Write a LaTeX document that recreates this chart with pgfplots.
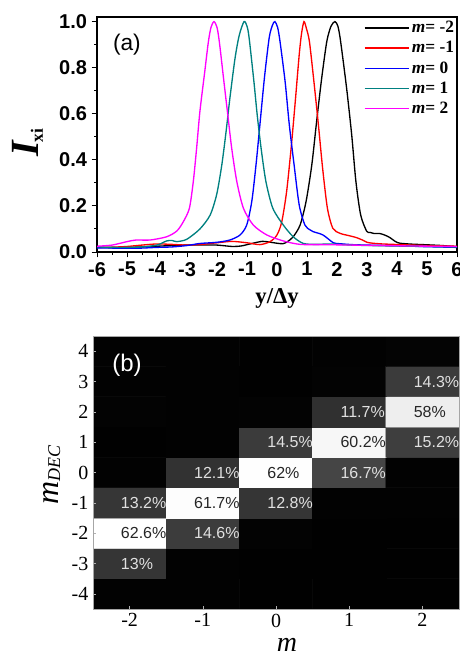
\documentclass[border=0pt]{standalone}
\usepackage{fontspec}
\usepackage{pgfplots}
\pgfplotsset{compat=1.18}
\setmainfont{Liberation Sans}
\newfontfamily\fsans{Liberation Sans}
\newfontfamily\fserif{Liberation Serif}
\definecolor{mteal}{RGB}{0,128,128}
\definecolor{mmag}{RGB}{255,0,255}

\begin{document}
\begin{tikzpicture}
\useasboundingbox (0,0) rectangle (345pt,489.75pt);

% (a) intensity profiles
\begin{axis}[
  at={(72.75pt,300.75pt)}, anchor=south west,
  scale only axis, width=270pt, height=176.25pt,
  xmin=-6, xmax=6, ymin=0, ymax=1.02,
  xtick={-6,-5,-4,-3,-2,-1,0,1,2,3,4,5,6},
  ytick={0,0.2,0.4,0.6,0.8,1},
  minor x tick num=1, minor y tick num=1,
  tick align=outside, tick pos=left,
  major tick length=4pt, minor tick length=2.2pt,
  axis line style={line width=0.8pt},
  tick style={black, line width=0.7pt},
  /pgf/number format/assume math mode=true,
  yticklabel style={/pgf/number format/.cd, fixed, fixed zerofill, precision=1},
  tick label style={font=\fontsize{15}{17}\selectfont\fsans\bfseries},
  xlabel={\fontsize{17}{20}\selectfont\fserif\bfseries y/Δy},
  xlabel style={at={(axis description cs:0.5,-0.196)}, anchor=center},
  ylabel={\fserif\bfseries\fontsize{30}{30}\selectfont\itshape I\kern-1pt\fontsize{13}{13}\selectfont\upshape\raisebox{-3pt}{xi}},
  ylabel style={at={(axis description cs:-0.192,0.464)}, anchor=center},
  legend style={draw=none, fill=none, at={(1,1)}, anchor=north east, yshift=-1pt,
    inner sep=0pt, row sep=1pt, font=\fontsize{13}{15}\selectfont\fserif\bfseries},
  legend cell align=left,
  legend image code/.code={\draw[#1] (0pt,0pt) -- (33pt,0pt);},
  every axis plot/.append style={line width=1pt, smooth, tension=0.45},
]
\addplot[black] coordinates {
(-6,0.020) (-5.5,0.019) (-5,0.020) (-4.5,0.022) (-4,0.025) (-3.5,0.028) (-3,0.030)
(-2.5,0.030) (-2,0.030) (-1.5,0.024) (-1.2,0.026) (-0.9,0.035) (-0.5,0.046) (-0.2,0.042)
(0.0,0.038) (0.2,0.036) (0.35,0.045) (0.54,0.066) (0.77,0.117) (0.97,0.22) (1.16,0.378)
(1.32,0.566) (1.49,0.755) (1.66,0.914) (1.8,0.98) (1.93,1.0) (2.03,0.98) (2.12,0.914)
(2.32,0.711) (2.49,0.508) (2.63,0.306) (2.79,0.16) (2.99,0.09) (3.1,0.085) (3.25,0.080)
(3.43,0.080) (3.6,0.073) (3.77,0.062) (3.95,0.045) (4.1,0.038) (4.5,0.034) (4.87,0.032)
(5.5,0.028) (6,0.023)
};
\addlegendentry{{\itshape m}= -2}
\addplot[red] coordinates {
(-6,0.020) (-5.5,0.021) (-5,0.024) (-4.5,0.030) (-4,0.035) (-3.5,0.033) (-3,0.030)
(-2.5,0.033) (-2,0.040) (-1.5,0.046) (-1.0,0.040) (-0.57,0.032) (-0.23,0.045) (0.0,0.074)
(0.16,0.132) (0.32,0.262) (0.47,0.45) (0.6,0.64) (0.74,0.856) (0.82,0.95) (0.9,1.0)
(0.98,0.97) (1.08,0.914) (1.23,0.74) (1.38,0.552) (1.52,0.364) (1.68,0.19) (1.86,0.103)
(2.1,0.081) (2.43,0.07) (2.66,0.062) (2.88,0.050) (3.0,0.042) (3.2,0.038) (3.5,0.035)
(4.1,0.032) (5,0.028) (6,0.025)
};
\addlegendentry{{\itshape m}= -1}
\addplot[blue] coordinates {
(-6,0.018) (-5.5,0.017) (-5,0.016) (-4.5,0.017) (-4,0.020) (-3.5,0.022) (-3,0.028)
(-2.57,0.037) (-2.01,0.042) (-1.57,0.052) (-1.23,0.074) (-1.01,0.117) (-0.84,0.22)
(-0.70,0.378) (-0.57,0.552) (-0.42,0.755) (-0.26,0.93) (-0.15,0.985) (-0.07,1.0)
(0.02,0.975) (0.10,0.914) (0.27,0.74) (0.41,0.552) (0.57,0.378) (0.74,0.204) (0.93,0.117)
(1.1,0.096) (1.21,0.088) (1.53,0.074) (1.88,0.040) (2.1,0.036) (2.5,0.032) (3,0.030)
(4,0.027) (5,0.023) (6,0.020)
};
\addlegendentry{{\itshape m}= 0}
\addplot[mteal] coordinates {
(-6,0.022) (-5.5,0.020) (-5,0.020) (-4.5,0.022) (-4,0.030) (-3.68,0.048) (-3.5,0.050)
(-3.34,0.045) (-3.01,0.055) (-2.57,0.10) (-2.23,0.16) (-2.01,0.25) (-1.84,0.378)
(-1.7,0.52) (-1.57,0.668) (-1.4,0.84) (-1.26,0.94) (-1.1,1.0) (-1.0,0.98) (-0.93,0.93)
(-0.77,0.74) (-0.66,0.595) (-0.53,0.45) (-0.37,0.306) (-0.14,0.19) (0.21,0.117)
(0.54,0.066) (0.88,0.037) (1.32,0.033) (1.77,0.035) (2.5,0.030) (3.5,0.027) (4.5,0.025)
(6,0.022)
};
\addlegendentry{{\itshape m}= 1}
\addplot[mmag] coordinates {
(-6,0.025) (-5.5,0.030) (-5,0.045) (-4.7,0.052) (-4.23,0.052) (-3.68,0.066) (-3.34,0.091)
(-3.12,0.132) (-2.92,0.19) (-2.79,0.306) (-2.68,0.45) (-2.57,0.61) (-2.42,0.77)
(-2.29,0.91) (-2.2,0.975) (-2.1,1.0) (-2.0,0.975) (-1.92,0.91) (-1.77,0.74) (-1.64,0.595)
(-1.51,0.45) (-1.34,0.306) (-1.12,0.19) (-0.79,0.117) (-0.34,0.074) (0.21,0.048)
(0.77,0.033) (1.5,0.032) (2.5,0.030) (3.5,0.028) (4.5,0.026) (6,0.024)
};
\addlegendentry{{\itshape m}= 2}
\node[font=\fontsize{17}{20}\selectfont\fsans] at (rel axis cs:0.083,0.881) {(a)};
\end{axis}

% (b) decoding matrix
\begin{axis}[
  at={(69.75pt,33pt)}, anchor=south west,
  scale only axis, width=274.5pt, height=204.75pt,
  xmin=-2.5, xmax=2.5, ymin=-4.5, ymax=4.5,
  xtick={-2,-1,0,1,2}, ytick={-4,-3,-2,-1,0,1,2,3,4},
  tick align=inside, tick pos=left,
  major tick length=2.5pt,
  tick style={gray!60, line width=0.4pt},
  axis line style={gray!70, line width=0.5pt},
  /pgf/number format/assume math mode=true,
  tick label style={font=\fontsize{15}{17}\selectfont\fserif},
  colormap/blackwhite,
  point meta min=0, point meta max=62.6,
  axis on top,
  xlabel={\fontsize{21}{24}\selectfont\fserif\itshape m},
  xlabel style={at={(axis description cs:0.53,-0.132)}, anchor=center},
  ylabel={\fserif\itshape\fontsize{24}{26}\selectfont m\fontsize{13.5}{15}\selectfont\raisebox{-1pt}{DEC}},
  ylabel style={at={(axis description cs:-0.112,0.49)}, anchor=center},
]
\addplot[matrix plot*, mesh/cols=5, point meta=explicit] table[meta=c] {
x y c
-2 -4 0.5
-1 -4 0.6
0 -4 0.2
1 -4 0.2
2 -4 0.2
-2 -3 13
-1 -3 0.5
0 -3 0.3
1 -3 0.2
2 -3 0.2
-2 -2 62.6
-1 -2 14.6
0 -2 0.8
1 -2 0.3
2 -2 0.2
-2 -1 13.2
-1 -1 61.7
0 -1 12.8
1 -1 0.6
2 -1 0.4
-2 0 0.4
-1 0 12.1
0 0 62
1 0 16.7
2 0 0.6
-2 1 0.3
-1 1 0.4
0 1 14.5
1 1 60.2
2 1 15.2
-2 2 0.7
-1 2 0.6
0 2 0.8
1 2 11.7
2 2 58
-2 3 0.6
-1 3 0.4
0 3 0.3
1 3 0.8
2 3 14.3
-2 4 0.6
-1 4 0.4
0 4 0.3
1 4 0.6
2 4 0.9
};
\addplot[draw=none, mark=none, point meta=explicit symbolic,
  nodes near coords={\pgfplotspointmeta\%},
  every node near coord/.append style={anchor=west, xshift=-10pt, text=black!85,
    font=\fontsize{12}{14}\selectfont\fsans}]
  table[meta=v] {
x y v
-2 -2 62.6
-1 -1 61.7
0 0 62
1 1 60.2
2 2 58
};
\addplot[draw=none, mark=none, point meta=explicit symbolic,
  nodes near coords={\pgfplotspointmeta\%},
  every node near coord/.append style={anchor=west, xshift=-10pt, text=white!88!black,
    font=\fontsize{12}{14}\selectfont\fsans}]
  table[meta=v] {
x y v
-2 -3 13
-2 -1 13.2
-1 -2 14.6
-1 0 12.1
0 -1 12.8
0 1 14.5
1 0 16.7
1 2 11.7
2 1 15.2
2 3 14.3
};
\node[white, font=\fontsize{18}{20}\selectfont\fsans] at (rel axis cs:0.093,0.894) {(b)};
\end{axis}
\end{tikzpicture}
\end{document}
